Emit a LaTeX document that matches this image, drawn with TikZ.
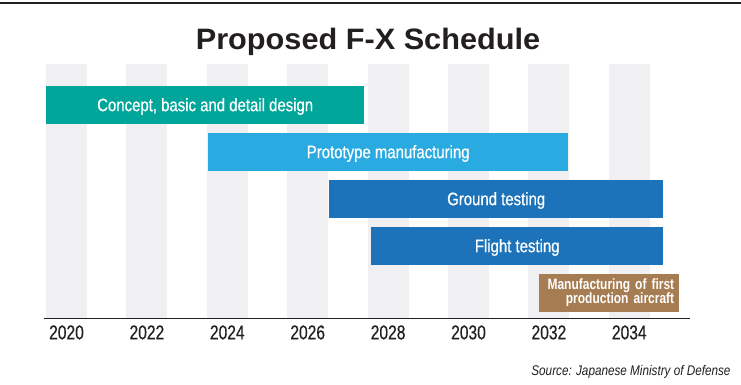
\documentclass[tikz,border=0pt]{standalone}
\usepackage{fontspec}
\setmainfont{Liberation Sans}
\newfontfamily\titlefont[FakeStretch=1.04]{Liberation Sans}
\newfontfamily\barfont[FakeStretch=0.83,FakeBold=0.6]{Liberation Sans}
\newfontfamily\yearfont[FakeStretch=0.78,FakeBold=0.4]{Liberation Sans}
\newfontfamily\mfgfont[FakeStretch=0.8,WordSpace=0.8]{Liberation Sans}
\newfontfamily\srcfont[FakeStretch=0.837]{Liberation Sans}
\definecolor{tealbar}{RGB}{0,166,154}
\definecolor{lightbar}{RGB}{41,170,225}
\definecolor{darkbar}{RGB}{28,115,186}
\definecolor{brownbar}{RGB}{166,124,82}
\definecolor{stripe}{RGB}{240,240,242}
\definecolor{ink}{RGB}{35,31,32}
\begin{document}
\begin{tikzpicture}[x=1pt,y=-1pt,
  barbox/.style={anchor=north west, inner sep=0pt, minimum height=38pt,
    text=white, font=\barfont\fontsize{18}{20}\selectfont, text height=12.9pt, text depth=0pt},
  yearlbl/.style={anchor=base, inner sep=0pt, text=ink, font=\yearfont\fontsize{20}{22}\selectfont},
]
\useasboundingbox (0,0) rectangle (741,384);
\fill[white] (0,0) rectangle (741,384);
\draw[ink, line width=1.5pt] (0,3) -- (741,3);
\node[anchor=base, inner sep=0pt, text=ink, font=\titlefont\bfseries\fontsize{29.5}{32}\selectfont] (title) at (368,49) {Proposed F-X Schedule};
\foreach \i in {0,...,7} {
  \fill[stripe] ({46+\i*80.4},64) rectangle ({87+\i*80.4},318);
  \pgfmathtruncatemacro{\yr}{2020+2*\i}
  \node[yearlbl] (y\yr) at ({66.5+\i*80.4},339.3) {\yr};
}
\draw[ink, line width=1.2pt] (44,318.3) -- (690,318.3);
\node[barbox, fill=tealbar, minimum width=318pt] (concept) at (46,85.5) {Concept, basic and detail design};
\node[barbox, fill=lightbar, minimum width=360pt] (proto) at (208,132.5) {Prototype manufacturing};
\node[barbox, fill=darkbar, minimum width=334pt] (ground) at (329,179.5) {Ground testing};
\node[barbox, fill=darkbar, minimum width=292pt] (flight) at (371,226.5) {Flight testing};
\node[anchor=north west, fill=brownbar, text=white, minimum height=38pt, inner xsep=5pt, inner ysep=0pt,
  text width=130pt, align=right, font=\mfgfont\bfseries\fontsize{15}{14.8}\selectfont] (mfg) at (539,273.5) {Manufacturing of first\\production aircraft};
\node[anchor=base east, inner sep=0pt, text=ink, font=\srcfont\itshape\fontsize{14}{16}\selectfont] (src) at (730.7,375) {Source: Japanese Ministry of Defense};
\end{tikzpicture}
\end{document}
